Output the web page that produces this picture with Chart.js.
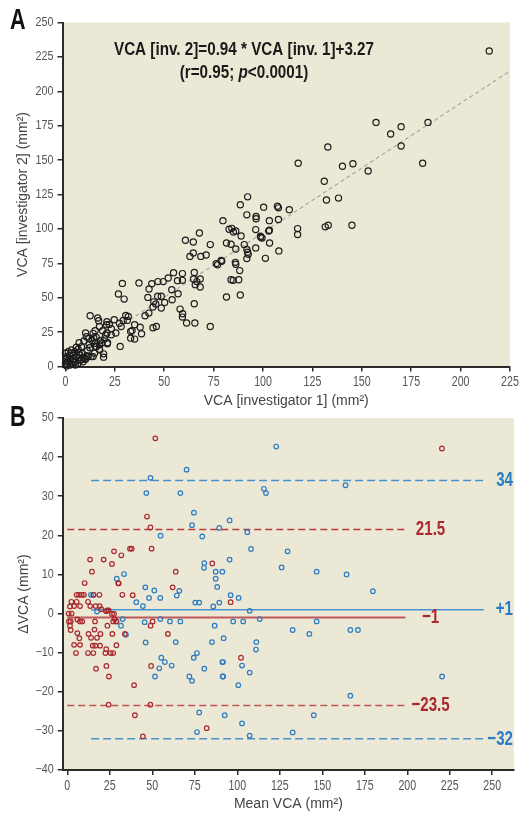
<!DOCTYPE html>
<html>
<head>
<meta charset="utf-8">
<title>VCA inter-observer agreement</title>
<script src="https://cdn.jsdelivr.net/npm/chart.js@4.4.1/dist/chart.umd.min.js"></script>
<style>
  body { margin: 0; background: #fff; width: 523px; height: 815px; position: relative; overflow: hidden; }
  canvas { position: absolute; left: 0; }
  #chartA { top: 0; }
  #chartB { top: 400px; }
  .panel-letter {
    position: absolute; left: 10px; color: #111;
    font: bold 30px 'Liberation Sans', Arial, sans-serif; line-height: 1;
    transform: scaleX(0.72); transform-origin: left top;
  }
</style>
</head>
<body>
<canvas id="chartA" width="523" height="420"></canvas>
<canvas id="chartB" width="523" height="415"></canvas>
<div class="panel-letter" style="top:4px">A</div>
<div class="panel-letter" style="top:401px">B</div>
<script>
// panel A: VCA measured by investigator 1 (x) vs investigator 2 (y), mm2
const inv1 = [
  214.5, 157.2, 169.9, 164.6, 183.5, 169.9, 132.8, 117.8, 140.2, 145.5, 153.2, 180.8, 131.0, 132.1, 138.2,
  131.5, 133.0, 145.0, 117.5, 117.5, 100.3, 107.3, 107.8, 113.3, 103.2, 107.8, 103.2, 98.7, 99.5, 103.3,
  108.0, 101.2, 92.2, 88.5, 91.8, 96.5, 96.5, 79.7, 82.8, 84.2, 85.0, 86.2, 88.9, 96.3, 90.5,
  81.5, 83.8, 86.2, 91.8, 92.2, 92.5, 96.3, 91.8, 86.0, 86.2, 78.8, 76.3, 88.2, 83.8, 87.7,
  81.5, 88.5, 102.9, 98.9, 60.7, 64.7, 67.8, 63.0, 64.7, 68.5, 71.2, 73.3, 65.2, 54.7, 59.2,
  59.2, 56.7, 64.8, 66.5, 68.2, 65.7, 68.2, 52.0, 49.5, 46.8, 43.7, 37.2, 28.8, 26.8, 29.7,
  42.3, 41.7, 46.7, 48.5, 53.8, 54.0, 57.0, 50.2, 48.5, 44.7, 44.3, 40.3, 42.2, 58.0, 59.3,
  59.2, 61.3, 65.2, 65.5, 73.3, 44.3, 46.0, 77.0, 79.1, 84.9, 30.5, 31.8, 31.3, 29.2, 35.0,
  37.8, 38.5, 33.0, 33.0, 35.0, 24.7, 21.0, 22.2, 20.8, 16.3, 16.8, 12.5, 17.2, 18.8, 15.0,
  23.2, 21.0, 23.2, 25.5, 27.7, 21.2, 19.8, 19.3, 19.3, 10.2, 11.8, 14.3, 13.5, 10.6, 14.0,
  15.6, 15.1, 17.6, 20.3, 18.6, 21.3, 6.9, 9.3, 6.4, 8.1, 12.3, 15.6, 17.3, 14.0, 11.5,
  8.9, 33.7, 28.2, 27.3, 45.7, 0.0, 1.4, 3.1, 4.8, 0.2, 0.6, 2.3, 3.9, 5.6, 7.3,
  0.0, 1.4, 3.1, 4.8, 6.4, 8.9, 0.6, 2.3, 3.9, 9.8, 6.8, 8.5, 10.8, 8.0, 10.2,
  13.0, 14.7, 17.2, 15.5, 17.2, 1.0, 2.0, 5.0, 7.0, 0.5, 3.0, 5.5, 11.0, 12.0, 4.0
];
const inv2 = [
  229.3, 177.4, 174.3, 169.0, 177.4, 160.2, 159.5, 147.7, 145.5, 147.4, 142.1, 147.7, 134.6, 121.0, 122.4,
  101.5, 102.7, 102.7, 100.2, 95.9, 115.8, 116.5, 115.3, 114.0, 106.0, 106.8, 99.0, 94.7, 93.4, 89.8,
  84.0, 78.6, 123.3, 117.5, 110.2, 109.0, 107.4, 106.0, 99.7, 100.4, 97.7, 98.5, 94.8, 99.5, 88.6,
  89.8, 88.8, 85.4, 85.0, 83.0, 81.5, 86.2, 78.4, 75.7, 74.3, 77.0, 74.8, 69.7, 63.0, 63.0,
  50.5, 52.0, 98.5, 93.9, 91.7, 90.5, 97.0, 80.0, 82.5, 80.0, 81.0, 88.6, 68.4, 68.2, 67.5,
  62.6, 62.4, 63.6, 61.7, 63.6, 59.5, 57.8, 64.3, 61.7, 61.7, 60.2, 60.7, 60.4, 52.7, 49.0,
  56.3, 50.2, 51.0, 51.0, 55.8, 48.5, 52.9, 46.6, 42.5, 47.0, 43.2, 36.9, 38.8, 41.7, 38.3,
  35.9, 31.6, 45.6, 31.6, 29.1, 28.2, 29.1, 74.0, 76.5, 62.6, 37.1, 36.4, 33.5, 33.5, 30.3,
  28.6, 23.8, 25.5, 20.6, 19.9, 34.0, 32.5, 30.6, 30.3, 35.2, 33.3, 36.9, 29.1, 26.0, 26.0,
  27.4, 24.3, 23.0, 24.3, 14.6, 16.5, 20.1, 6.8, 9.2, 24.3, 20.4, 20.9, 18.9, 21.7, 24.1,
  21.2, 16.9, 18.8, 22.9, 17.3, 17.3, 17.3, 18.5, 12.5, 14.4, 13.7, 14.4, 12.0, 7.2, 7.2,
  6.4, 26.1, 29.0, 31.4, 45.4, 9.6, 10.8, 9.6, 10.8, 5.9, 7.2, 4.7, 5.9, 7.2, 4.7,
  2.3, 3.5, 1.8, 3.5, 2.3, 3.5, 0.4, 1.1, 8.4, 5.9, 10.2, 9.7, 7.8, 4.9, 5.3,
  7.3, 9.7, 12.6, 14.6, 15.8, 1.5, 8.0, 1.0, 8.5, 4.0, 12.0, 14.0, 11.5, 16.0, 3.0
];
const slope = 0.94;
const intercept = 3.27;
const xTicksA = [0, 25, 50, 75, 100, 125, 150, 175, 200, 225];
const yTicksA = [0, 25, 50, 75, 100, 125, 150, 175, 200, 225, 250];

// panel B: Bland-Altman, mean VCA vs difference, two groups
const redMean = [
  51.8, 46.9, 48.9, 49.6, 13.4, 14.5, 10.2, 21.4, 27.5, 26.3, 31.8, 36.9, 37.9, 32.4, 30.2,
  38.5, 62.0, 63.8, 85.3, 96.1, 220.4, 5.5, 6.9, 8.5, 9.8, 18.9, 15.5, 2.4, 5.5, 12.2,
  1.6, 4.0, 7.5, 13.5, 16.7, 19.0, 23.5, 24.4, 26.3, 27.5, 27.9, 0.8, 2.5, 1.0, 2.0,
  7.5, 8.8, 1.6, 2.0, 5.9, 16.3, 5.9, 7.1, 4.0, 7.5, 5.1, 16.0, 19.5, 12.5, 14.0,
  17.5, 15.0, 16.5, 19.3, 12.2, 15.3, 22.4, 25.5, 27.0, 22.9, 33.9, 26.5, 28.9, 16.9, 23.0,
  24.5, 39.3, 49.3, 59.2, 49.0, 50.2, 23.6, 22.8, 27.0, 28.8, 24.3, 39.8, 44.5, 48.9, 82.0,
  102.2, 30.0, 20.0
];
const redDiff = [
  44.8, 24.8, 22.0, 16.6, 13.8, 10.7, 7.8, 13.8, 15.9, 12.7, 14.9, 16.6, 16.6, 4.8, 7.7,
  4.7, 6.7, 10.7, 12.8, 2.9, 42.2, 4.8, 4.8, 4.8, 4.8, 4.8, 4.8, 3.0, 3.0, 3.0,
  1.8, 1.9, 1.9, 1.9, 1.9, 1.9, 0.8, 0.8, -0.1, -0.1, -1.4, 0.0, 0.0, -2.0, -2.0,
  -2.0, -2.0, -3.1, -4.2, -1.5, -2.0, -5.0, -6.3, -8.0, -8.0, -10.1, -4.1, -5.2, -5.2, -6.2,
  -6.2, -8.2, -8.2, -8.2, -10.1, -10.1, -10.1, -10.1, -10.1, -9.1, -5.2, -5.2, -8.1, -14.1, -13.4,
  -16.1, -18.3, -13.4, -5.2, -3.1, -2.0, -3.1, 0.6, -2.0, -2.0, -23.3, -26.0, -31.4, -23.3, -29.3,
  -11.3, 7.8, 1.1
];
const blueMean = [
  48.9, 46.5, 66.5, 70.2, 74.5, 73.4, 54.9, 79.4, 89.4, 95.5, 105.9, 108.1, 80.6, 80.4, 87.3,
  91.2, 87.3, 88.2, 95.5, 29.1, 33.4, 45.9, 51.2, 48.1, 54.7, 64.4, 65.9, 40.6, 44.5, 75.3,
  77.6, 85.9, 89.4, 96.1, 100.8, 13.9, 15.3, 122.9, 115.7, 116.9, 163.7, 129.6, 126.1, 146.7, 164.3,
  179.8, 107.3, 60.4, 66.5, 97.6, 103.5, 113.2, 146.7, 86.7, 132.6, 142.4, 166.5, 171.0, 63.8, 85.1,
  92.0, 111.2, 111.0, 76.3, 74.4, 61.4, 80.6, 91.2, 91.6, 91.4, 91.7, 102.8, 107.3, 71.8, 73.4,
  100.6, 166.5, 220.5, 77.6, 92.6, 145.0, 102.8, 76.3, 107.3, 132.6, 17.5, 29.0, 31.6, 32.6, 34.5,
  45.5, 46.1, 54.7, 55.3, 57.4, 54.1, 51.6
];
const blueDiff = [
  34.7, 30.8, 30.8, 36.8, 25.8, 22.6, 19.9, 19.7, 21.9, 23.8, 20.8, 16.5, 12.9, 11.7, 10.7,
  10.7, 8.9, 6.8, 13.8, 8.9, 10.1, 6.7, 5.9, 4.0, 4.0, 4.6, 5.8, 2.9, 1.9, 2.8,
  2.8, 1.8, 2.8, 4.7, 4.0, 4.8, 4.8, 42.7, 31.9, 30.8, 32.8, 15.9, 11.8, 10.7, 10.0,
  5.7, 0.7, -2.0, -2.0, -2.0, -2.0, -1.4, -2.0, -3.1, -4.2, -5.2, -4.2, -4.2, -7.3, -7.3,
  -6.3, -7.3, -9.2, -10.1, -11.3, -13.3, -14.1, -12.4, -12.4, -16.1, -16.1, -13.3, -15.1, -16.1, -17.2,
  -18.3, -21.0, -16.1, -25.3, -26.0, -26.0, -28.1, -30.3, -31.2, -30.4, 0.5, -2.0, -3.1, -1.4, -5.4,
  -2.2, -7.4, -1.4, -11.3, -12.4, -14.0, -16.1
];
// mean difference and limits of agreement, with the range of means they span
const blueBias = 1;
const blueLimits = [34, -32];
const blueSpan = [14, 245];
const redBias = -1;
const redLimits = [21.5, -23.5];
const redSpan = [0, 199];
const xTicksB = [0, 25, 50, 75, 100, 125, 150, 175, 200, 225, 250];
const yTicksB = [-40, -30, -20, -10, 0, 10, 20, 30, 40, 50];

const BLUE = '#2b7cc3';
const RED = '#a9282e';
const SANS = "'Liberation Sans', Arial, sans-serif";
const titleFont = { family: SANS, size: 14 };

const minus = v => String(v).replace('-', '\u2212');
const pairs = (xs, ys) => xs.map((x, i) => ({ x: x, y: ys[i] }));

// no narrow font installed, so squeeze Liberation Sans horizontally
function drawNarrow(ctx, text, x, y, align, font, squeeze) {
  ctx.save();
  ctx.translate(x, y);
  ctx.scale(squeeze, 1);
  ctx.font = font;
  ctx.textAlign = align;
  ctx.textBaseline = 'middle';
  ctx.fillText(text, 0, 0);
  ctx.restore();
}

const paperBg = {
  id: 'paperBg',
  beforeDraw(chart) {
    const { ctx, chartArea: a } = chart;
    ctx.save();
    ctx.fillStyle = '#ece8d6';
    ctx.fillRect(a.left, a.top, a.right - a.left, a.bottom - a.top);
    ctx.restore();
  }
};

const narrowTicks = {
  id: 'narrowTicks',
  afterDraw(chart) {
    const { ctx, scales: { x, y } } = chart;
    ctx.save();
    ctx.fillStyle = '#555';
    x.ticks.forEach(t => drawNarrow(ctx, minus(t.value), x.getPixelForValue(t.value), x.top + 16, 'center', '14px ' + SANS, 0.76));
    y.ticks.forEach(t => drawNarrow(ctx, minus(t.value), y.right - 9, y.getPixelForValue(t.value), 'right', '12.5px ' + SANS, 0.86));
    ctx.restore();
  }
};

function axis(ticks, opts) {
  return Object.assign({
    type: 'linear',
    afterBuildTicks: s => { s.ticks = ticks.map(v => ({ value: v })); },
    border: { display: true, color: '#2b2b2b', width: 2 },
    grid: { drawOnChartArea: false, drawTicks: true, tickLength: 5, color: '#2b2b2b', lineWidth: 1.5 },
    ticks: { font: { family: SANS, size: 12 }, color: 'rgba(0,0,0,0)', padding: 3, maxRotation: 0, autoSkip: false }
  }, opts);
}

// ---------- panel A ----------
const equationText = {
  id: 'equationText',
  afterDraw(chart) {
    const ctx = chart.ctx;
    const cx = 244;
    const sq = 0.87;
    ctx.save();
    ctx.fillStyle = '#1a1a1a';
    drawNarrow(ctx, 'VCA [inv. 2]=' + slope + ' * VCA [inv. 1]+' + intercept, cx, 50, 'center', 'bold 17.5px ' + SANS, sq);

    const parts = [['(r=0.95; ', 'bold '], ['p', 'italic bold '], ['<0.0001)', 'bold ']];
    let total = 0;
    parts.forEach(p => { ctx.font = p[1] + '17.5px ' + SANS; total += ctx.measureText(p[0]).width * sq; });
    let x = cx - total / 2;
    parts.forEach(p => {
      const font = p[1] + '17.5px ' + SANS;
      drawNarrow(ctx, p[0], x, 73, 'left', font, sq);
      ctx.font = font;
      x += ctx.measureText(p[0]).width * sq;
    });
    ctx.restore();
  }
};

new Chart(document.getElementById('chartA'), {
  type: 'scatter',
  data: {
    datasets: [
      {
        data: [{ x: 0, y: intercept }, { x: 225, y: slope * 225 + intercept }],
        type: 'line', showLine: true, borderColor: '#a8a8a8', borderWidth: 1.2,
        borderDash: [4, 3], pointRadius: 0, order: 2
      },
      {
        data: pairs(inv1, inv2),
        pointStyle: 'circle', pointRadius: 3.1, pointBorderWidth: 1.2,
        borderColor: '#1c1c1c', backgroundColor: 'rgba(0,0,0,0)', clip: false, order: 1
      }
    ]
  },
  options: {
    responsive: false, animation: false,
    layout: { padding: { left: 0, right: 9, top: 22.5, bottom: 0 } },
    plugins: { legend: { display: false }, tooltip: { enabled: false } },
    scales: {
      x: axis(xTicksA, {
        min: -1.5, max: 225,
        afterFit: s => { s.height = 53.5; },
        title: { display: true, text: 'VCA [investigator 1] (mm\u00b2)', font: titleFont, color: '#444', padding: { top: 0, bottom: 10 } }
      }),
      y: axis(yTicksA, {
        min: 0, max: 250,
        afterFit: s => { s.width = 62.5; },
        title: { display: true, text: 'VCA [investigator 2] (mm\u00b2)', font: titleFont, color: '#444', padding: { top: 14.5, bottom: 0 } }
      })
    }
  },
  plugins: [paperBg, narrowTicks, equationText]
});

// ---------- panel B ----------
const limitLabels = {
  id: 'limitLabels',
  afterDatasetsDraw(chart) {
    const { ctx, chartArea: a, scales: { x, y } } = chart;
    const font = 'bold 21px ' + SANS;
    const redX = x.getPixelForValue(redSpan[1]) + 25;
    ctx.save();
    ctx.fillStyle = BLUE;
    [blueLimits[0], blueBias, blueLimits[1]].forEach(v => {
      drawNarrow(ctx, (v > 0 && v < 10 ? '+' : '') + minus(v), a.right - 1, y.getPixelForValue(v), 'right', font, 0.72);
    });
    ctx.fillStyle = RED;
    [redLimits[0], redBias, redLimits[1]].forEach(v => {
      drawNarrow(ctx, minus(v), redX, y.getPixelForValue(v), 'center', font, 0.72);
    });
    ctx.restore();
  }
};

const hline = (value, span, color, width, dash) => ({
  type: 'line', data: [{ x: span[0], y: value }, { x: span[1], y: value }],
  showLine: true, borderColor: color, borderWidth: width, borderDash: dash,
  pointRadius: 0, order: 2
});

new Chart(document.getElementById('chartB'), {
  type: 'scatter',
  data: {
    datasets: [
      hline(blueLimits[0], blueSpan, '#4a91cf', 1.5, [8, 4]),
      hline(blueLimits[1], blueSpan, '#4a91cf', 1.5, [8, 4]),
      hline(blueBias, blueSpan, '#4a91cf', 1.5, []),
      hline(redLimits[0], redSpan, '#b83a3d', 1.5, [7, 4]),
      hline(redLimits[1], redSpan, '#c05454', 1.5, [7, 4]),
      hline(redBias, redSpan, '#c05a5a', 2, []),
      {
        data: pairs(redMean, redDiff), pointStyle: 'circle', pointRadius: 2.3, pointBorderWidth: 1.2,
        borderColor: RED, backgroundColor: 'rgba(0,0,0,0)', clip: false, order: 1
      },
      {
        data: pairs(blueMean, blueDiff), pointStyle: 'circle', pointRadius: 2.3, pointBorderWidth: 1.2,
        borderColor: BLUE, backgroundColor: 'rgba(0,0,0,0)', clip: false, order: 1
      }
    ]
  },
  options: {
    responsive: false, animation: false,
    layout: { padding: { left: 0, right: 9, top: 18, bottom: 0 } },
    plugins: { legend: { display: false }, tooltip: { enabled: false } },
    scales: {
      x: axis(xTicksB, {
        min: -2.7, max: 262.8,
        afterFit: s => { s.height = 45; },
        title: { display: true, text: 'Mean VCA (mm\u00b2)', font: titleFont, color: '#444', padding: { top: 0, bottom: 2.5 } }
      }),
      y: axis(yTicksB, {
        min: -40, max: 50,
        afterFit: s => { s.width = 62.7; },
        title: { display: true, text: '\u0394VCA (mm\u00b2)', font: titleFont, color: '#444', padding: { top: 16, bottom: 0 } }
      })
    }
  },
  plugins: [paperBg, narrowTicks, limitLabels]
});
</script>
</body>
</html>
